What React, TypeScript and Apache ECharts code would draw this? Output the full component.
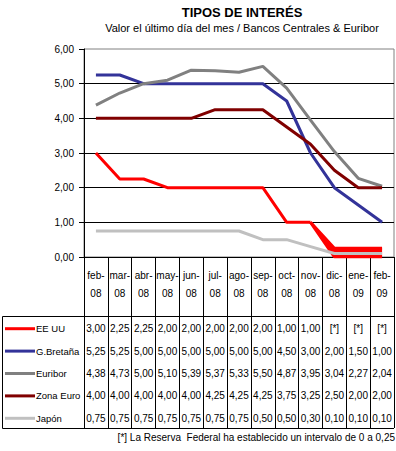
import React, { useEffect, useRef } from "react";
import * as echarts from "echarts";

const categories = ["feb-08", "mar-08", "abr-08", "may-08", "jun-08", "jul-08", "ago-08", "sep-08", "oct-08", "nov-08", "dic-08", "ene-09", "feb-09"];
const eeuu: (number | null)[] = [3.0, 2.25, 2.25, 2.0, 2.0, 2.0, 2.0, 2.0, 1.0, 1.0, null, null, null];
const gbretana = [5.25, 5.25, 5.0, 5.0, 5.0, 5.0, 5.0, 5.0, 4.5, 3.0, 2.0, 1.5, 1.0];
const euribor = [4.38, 4.73, 5.0, 5.1, 5.39, 5.37, 5.33, 5.5, 4.87, 3.95, 3.04, 2.27, 2.04];
const zonaEuro = [4.0, 4.0, 4.0, 4.0, 4.0, 4.25, 4.25, 4.25, 3.75, 3.25, 2.5, 2.0, 2.0];
const japon = [0.75, 0.75, 0.75, 0.75, 0.75, 0.75, 0.75, 0.5, 0.5, 0.3, 0.1, 0.1, 0.1];
const fedRange = [0, 0.25];
const yMin = 0;
const yMax = 6;
const yInterval = 1;

const FONT = "Liberation Sans, Arial, sans-serif";

const fmt = (v: number | null) => (v === null ? "[*]" : v.toFixed(2).replace(".", ","));

export default function App() {
  const ref = useRef<HTMLDivElement>(null);
  useEffect(() => {
    if (!ref.current) return;
    const chart = echarts.init(ref.current, undefined, { renderer: "svg" });

    let lastIdx = -1;
    eeuu.forEach((v, i) => {
      if (v !== null) lastIdx = i;
    });
    const bandLow = eeuu.map((v, i) => (i === lastIdx ? (v as number) : i > lastIdx ? fedRange[0] : null));
    const bandSpan = eeuu.map((_, i) => (i === lastIdx ? 0 : i > lastIdx ? fedRange[1] - fedRange[0] : null));

    const rows = [
      { name: "EE UU", data: eeuu, color: "#FF0000" },
      { name: "G.Bretaña", data: gbretana, color: "#333399" },
      { name: "Euribor", data: euribor, color: "#808080" },
      { name: "Zona Euro", data: zonaEuro, color: "#800000" },
      { name: "Japón", data: japon, color: "#C0C0C0" },
    ];

    const gridBottomY = 257;
    const tableTop = 316;
    const tableBottom = 428;
    const rowH = (tableBottom - tableTop) / rows.length;
    const rowCenter = (ri: number) => tableTop + rowH * (ri + 0.5) + 1.5;

    const rowAxes = rows.map((r, ri) => ({
      type: "category",
      gridIndex: 0,
      position: "bottom",
      data: categories,
      offset: rowCenter(ri) - gridBottomY,
      axisLine: { show: false },
      axisTick: { show: false },
      splitLine: { show: false },
      axisLabel: {
        interval: 0,
        margin: 0,
        verticalAlign: "middle",
        color: "#000",
        fontSize: 10,
        fontFamily: FONT,
        formatter: (_v: string, i: number) => fmt(r.data[i] as number | null),
      },
    }));

    const legendKeys = rows.flatMap((r, ri) => [
      {
        type: "line",
        shape: { x1: 5, y1: rowCenter(ri), x2: 35, y2: rowCenter(ri) },
        style: { stroke: r.color, lineWidth: 3 },
      },
      {
        type: "text",
        x: 36,
        y: rowCenter(ri),
        style: {
          text: r.name,
          font: `9.5px ${FONT}`,
          fill: "#000",
          textAlign: "left",
          textVerticalAlign: "middle",
        },
      },
    ]);

    const lineSeries = (name: string, data: (number | null)[], color: string, z = 2) => ({
      type: "line",
      name,
      data,
      symbol: "none",
      showSymbol: false,
      z,
      lineStyle: { color, width: 3 },
      itemStyle: { color },
    });

    chart.setOption({
      animation: false,
      title: {
        text: "TIPOS DE INTERÉS",
        subtext: "Valor el último día del mes / Bancos Centrales & Euribor",
        left: 242,
        top: 6,
        textAlign: "center",
        padding: 0,
        itemGap: 3,
        textStyle: { fontFamily: FONT, fontSize: 13, fontWeight: "bold", color: "#000" },
        subtextStyle: { fontFamily: FONT, fontSize: 11, color: "#000" },
      },
      grid: {
        left: 84,
        right: 2,
        top: 49,
        bottom: 451 - gridBottomY,
        show: true,
        borderColor: "#808080",
        borderWidth: 1,
        containLabel: false,
      },
      xAxis: [
        {
          type: "category",
          data: categories,
          boundaryGap: true,
          axisLine: { show: true, lineStyle: { color: "#000", width: 1 } },
          axisTick: { show: true, length: tableBottom - gridBottomY, lineStyle: { color: "#000" } },
          axisLabel: {
            interval: 0,
            margin: 27,
            verticalAlign: "middle",
            lineHeight: 18,
            color: "#000",
            fontSize: 10,
            fontFamily: FONT,
            formatter: (v: string) => v.replace("-", "-\n"),
          },
        },
        ...rowAxes,
      ],
      yAxis: {
        type: "value",
        min: yMin,
        max: yMax,
        interval: yInterval,
        axisLine: { show: true, lineStyle: { color: "#000", width: 1 } },
        axisTick: { show: true, length: 5, lineStyle: { color: "#000" } },
        axisLabel: {
          margin: 10,
          color: "#000",
          fontSize: 10,
          fontFamily: FONT,
          formatter: (v: number) => v.toFixed(2).replace(".", ","),
        },
        splitLine: { show: true, showMinLine: false, showMaxLine: false, lineStyle: { color: "#000", width: 1 } },
      },
      graphic: [
        { type: "line", shape: { x1: 2.5, y1: tableTop + 0.5, x2: 394, y2: tableTop + 0.5 }, style: { stroke: "#000", lineWidth: 1 } },
        { type: "line", shape: { x1: 2.5, y1: tableBottom + 0.5, x2: 394, y2: tableBottom + 0.5 }, style: { stroke: "#000", lineWidth: 1 } },
        { type: "line", shape: { x1: 2.5, y1: tableTop + 0.5, x2: 2.5, y2: tableBottom + 0.5 }, style: { stroke: "#000", lineWidth: 1 } },
        ...legendKeys,
        {
          type: "text",
          right: 1,
          top: 432,
          style: {
            text: "[*] La Reserva  Federal ha establecido un intervalo de 0 a 0,25",
            font: `10px ${FONT}`,
            fill: "#000",
          },
        },
      ],
      series: [
        { ...lineSeries("EE UU", bandLow, "#FF0000"), stack: "fed" },
        { ...lineSeries("EE UU", bandSpan, "#FF0000"), stack: "fed", areaStyle: { color: "#FF0000", opacity: 1 } },
        lineSeries("EE UU", eeuu, "#FF0000"),
        lineSeries("G.Bretaña", gbretana, "#333399"),
        lineSeries("Euribor", euribor, "#808080"),
        lineSeries("Zona Euro", zonaEuro, "#800000"),
        lineSeries("Japón", japon, "#C0C0C0"),
      ],
    });
    return () => chart.dispose();
  }, []);
  return <div ref={ref} style={{ position: "absolute", left: 0, top: 0, width: 396, height: 451 }} />;
}
